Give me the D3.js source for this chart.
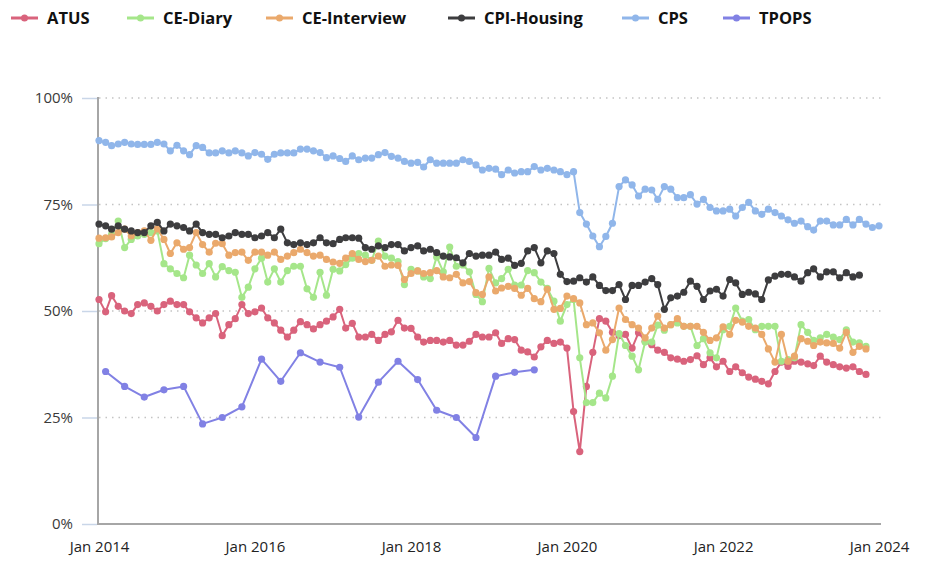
<!DOCTYPE html>
<html>
<head>
<meta charset="utf-8">
<script src="https://cdn.jsdelivr.net/npm/d3@7"></script>
<style>
  html, body { margin: 0; padding: 0; background: #fff; }
  svg { display: block; }
</style>
</head>
<body>
<svg id="chart" width="926" height="570"></svg>
<script>
// ---- Data (percent, monthly from Jan 2014) ----
const seriesNames = ["ATUS", "CE-Diary", "CE-Interview", "CPI-Housing", "CPS", "TPOPS"];
const seriesColors = ["#d9637c", "#a5e68a", "#eaa96c", "#3d3d3f", "#90b6ea", "#8181e4"];
const startMonth = "2014-01";
const xTickLabels = ["Jan 2014", "Jan 2016", "Jan 2018", "Jan 2020", "Jan 2022", "Jan 2024"];
const yTickValues = [0, 25, 50, 75, 100];

const atus = [52.7,49.8,53.6,51.1,50.0,49.4,51.5,51.9,51.1,50.0,51.5,52.3,51.5,51.5,49.8,48.4,47.2,48.4,49.4,44.2,
  46.8,48.2,51.5,49.4,49.8,50.7,48.4,47.2,45.5,43.9,45.5,47.5,46.8,45.8,46.8,47.6,48.6,50.4,46.0,47.1,
  43.9,43.9,44.5,43.1,44.5,45.1,47.8,46.0,45.9,43.9,42.7,43.1,43.1,42.7,43.1,42.0,42.0,42.9,44.5,43.9,
  43.9,44.9,42.4,43.5,43.3,40.8,40.4,39.2,41.6,43.1,42.4,42.7,41.3,26.4,17.0,32.3,40.3,48.2,47.6,45.0,
  44.2,44.5,41.3,44.9,42.9,42.1,40.8,40.3,39.0,38.7,38.2,38.6,39.5,37.4,39.0,36.9,38.2,35.8,36.9,35.5,
  34.5,34.0,33.5,32.9,35.8,38.0,37.0,38.2,38.0,37.6,37.2,39.4,38.0,37.4,36.9,36.6,36.9,35.8,35.1];

const ceDiary = [65.8,67.0,68.0,71.1,64.9,66.8,67.6,68.0,68.4,68.8,61.1,59.9,58.8,57.8,63.1,60.8,58.8,61.1,58.0,60.4,
  59.5,59.1,53.2,55.6,59.9,62.4,56.8,59.9,56.8,59.5,60.5,60.5,55.2,53.2,59.1,53.7,59.8,59.4,60.9,62.4,
  63.5,63.1,61.9,66.4,62.9,62.4,61.6,56.2,59.8,59.4,58.0,57.6,62.7,59.2,65.0,60.5,60.8,59.2,53.9,52.2,
  60.0,56.6,57.6,59.8,56.1,56.1,59.5,59.0,56.8,55.3,52.3,47.6,51.5,52.7,39.0,28.5,28.5,30.7,29.6,34.7,
  44.7,41.9,39.4,36.2,42.7,42.7,46.7,45.5,46.8,47.2,46.4,46.4,41.9,43.5,40.2,39.0,45.6,46.4,50.7,47.6,
  48.0,45.6,46.4,46.4,46.4,38.2,38.6,39.0,46.8,45.0,43.1,43.7,44.5,43.9,43.3,45.6,42.7,42.5,41.7];

const ceInterview = [67.1,67.2,67.4,68.4,69.2,67.6,68.4,68.8,66.6,69.3,66.8,63.5,66.0,64.5,64.9,68.4,65.6,63.8,65.9,65.8,
  63.1,63.7,63.8,61.9,63.8,63.8,63.1,63.8,62.1,62.9,63.7,64.5,63.7,62.9,63.1,62.1,61.5,61.2,62.4,63.5,
  62.1,61.6,61.9,62.9,60.5,60.8,60.7,57.4,58.8,59.4,58.8,59.0,59.5,58.0,57.8,58.6,56.6,56.9,54.3,53.9,
  58.0,54.7,55.4,55.8,55.3,53.7,55.3,52.9,52.2,55.1,50.4,50.6,53.5,52.9,51.9,46.8,47.2,44.9,40.8,43.3,
  50.7,48.0,46.8,46.0,43.7,46.0,48.8,46.0,46.8,48.2,46.4,46.4,46.4,45.0,43.1,43.7,46.3,44.5,47.8,47.4,
  46.4,46.0,44.5,41.1,38.0,44.5,38.2,39.4,43.5,42.9,41.9,42.7,42.5,42.4,41.3,45.0,40.3,41.7,41.1];

const cpiHousing = [70.4,70.0,69.2,70.0,69.2,68.8,68.4,68.4,70.0,70.8,68.8,70.4,70.0,69.6,68.8,70.4,68.4,68.0,68.0,67.2,
  67.6,68.4,68.0,68.0,67.2,67.6,68.4,67.2,69.2,66.0,65.6,66.0,65.6,66.0,67.2,66.0,65.8,66.8,67.2,67.2,
  67.1,64.9,64.5,65.3,64.9,65.6,65.6,64.1,64.9,65.3,64.1,64.5,63.7,62.9,62.7,62.5,61.3,63.5,62.9,63.1,
  63.1,63.8,62.1,62.4,60.7,61.2,64.1,64.9,61.3,64.1,63.5,58.6,56.9,57.0,57.8,56.8,58.0,56.0,54.8,54.8,
  56.2,52.7,56.0,56.0,56.8,57.6,56.2,50.4,53.1,53.5,54.4,57.0,55.8,52.7,54.7,55.1,53.5,57.4,56.6,53.9,
  54.4,54.0,52.7,57.3,58.2,58.6,58.6,58.0,57.0,59.0,59.9,58.0,59.2,59.2,57.8,59.0,58.0,58.4];

const cps = [90.0,89.6,88.8,89.2,89.6,89.2,89.1,89.1,89.1,89.6,89.2,87.6,88.9,87.6,86.7,88.8,88.4,87.1,87.1,87.6,
  87.1,87.6,87.1,86.4,87.2,86.8,85.6,86.8,87.1,87.1,87.1,88.0,88.0,87.6,87.2,86.0,86.4,85.8,85.1,86.4,
  85.5,85.9,85.9,86.7,87.2,86.3,85.9,85.1,84.7,84.9,83.8,85.5,84.7,84.7,84.7,84.7,85.5,85.1,84.3,83.1,
  83.5,83.3,82.0,83.1,82.4,82.7,82.7,83.9,83.1,83.5,83.1,82.7,82.0,82.7,73.1,70.4,67.6,65.1,67.5,70.6,
  79.2,80.8,79.6,77.0,78.6,78.4,76.2,79.2,78.6,76.6,76.6,77.3,75.1,76.2,74.3,73.5,73.5,73.9,72.3,74.3,
  75.5,73.5,72.7,73.9,73.1,72.3,71.4,70.6,71.1,69.8,69.0,71.1,71.1,70.2,70.2,71.5,70.2,71.5,70.4,69.6,70.0];

const tpopsMonths = ["2014-02","2014-05","2014-08","2014-11","2015-02","2015-05","2015-08","2015-11",
  "2016-02","2016-05","2016-08","2016-11","2017-02","2017-05","2017-08","2017-11",
  "2018-02","2018-05","2018-08","2018-11","2019-02","2019-05","2019-08"];
const tpops = [35.8,32.3,29.8,31.5,32.3,23.5,25.0,27.5,38.7,33.5,40.2,38.0,36.8,25.1,33.3,38.2,33.9,26.7,25.0,20.3,34.7,35.6,36.2];

// ---- Build ----
(function () {
const parseMonth = d3.timeParse("%Y-%m");
const start = parseMonth(startMonth);
const monthly = arr => arr.map((v, i) => ({ date: d3.timeMonth.offset(start, i), value: v / 100 }));
const seriesData = [
  monthly(atus),
  monthly(ceDiary),
  monthly(ceInterview),
  monthly(cpiHousing),
  monthly(cps),
  tpopsMonths.map((m, i) => ({ date: parseMonth(m), value: tpops[i] / 100 }))
];

const svg = d3.select("#chart");
const mLeft = 99, mRight = 879, mTop = 98, mBottom = 524;

const x = d3.scaleTime()
  .domain([parseMonth("2014-01"), parseMonth("2024-01")])
  .range([mLeft, mRight]);
const y = d3.scaleLinear().domain([0, 1]).range([mBottom, mTop]);

const fontFamily = "'Open Sans', 'Noto Sans', sans-serif";

// gridlines
svg.append("g").selectAll("line")
  .data(yTickValues.filter(v => v > 0))
  .join("line")
  .attr("x1", mLeft).attr("x2", mRight + 2)
  .attr("y1", d => y(d / 100)).attr("y2", d => y(d / 100))
  .attr("stroke", "#c4c4c4").attr("stroke-width", 1.5)
  .attr("stroke-dasharray", "1.5,5");

// y axis
const yAxis = d3.axisLeft(y)
  .tickValues(yTickValues.map(v => v / 100))
  .tickFormat(d3.format(".0%"))
  .tickSize(15).tickPadding(9);
const gy = svg.append("g").attr("transform", `translate(${mLeft - 2},0)`).call(yAxis);
gy.select(".domain").remove();
gy.selectAll(".tick line").attr("stroke", "#c9d6e8").attr("stroke-width", 1.5);
gy.selectAll(".tick text").attr("fill", "#3a3a3a").style("font-family", fontFamily).style("font-size", "15px");

// x axis
const xAxis = d3.axisBottom(x)
  .tickValues(xTickLabels.map(s => d3.timeParse("%b %Y")(s)))
  .tickFormat(d3.timeFormat("%b %Y"))
  .tickSize(0).tickPadding(17);
const gx = svg.append("g").attr("transform", `translate(0,${mBottom})`).call(xAxis);
gx.select(".domain").remove();
gx.selectAll(".tick text").attr("fill", "#222").style("font-family", fontFamily).style("font-size", "15px");

// axis lines
svg.append("line").attr("x1", mLeft - 1).attr("x2", mLeft - 1).attr("y1", mTop - 1).attr("y2", mBottom + 1)
  .attr("stroke", "#a6a6a6").attr("stroke-width", 2);
svg.append("line").attr("x1", mLeft - 2).attr("x2", mRight + 2).attr("y1", mBottom).attr("y2", mBottom)
  .attr("stroke", "#a6a6a6").attr("stroke-width", 2);

// series
const line = d3.line().x(d => x(d.date)).y(d => y(d.value));
seriesData.forEach((data, i) => {
  const g = svg.append("g");
  g.append("path").datum(data)
    .attr("d", line).attr("fill", "none")
    .attr("stroke", seriesColors[i]).attr("stroke-width", 2)
    .attr("stroke-linejoin", "round");
  g.selectAll("circle").data(data).join("circle")
    .attr("cx", d => x(d.date)).attr("cy", d => y(d.value))
    .attr("r", 3.6).attr("fill", seriesColors[i]);
});

// legend
const legendX = [11, 127, 266, 448, 622, 723];
const lg = svg.append("g").attr("transform", "translate(0,18)");
seriesNames.forEach((name, i) => {
  const g = lg.append("g").attr("transform", `translate(${legendX[i]},0)`);
  g.append("line").attr("x1", 0).attr("x2", 27).attr("y1", 0).attr("y2", 0)
    .attr("stroke", seriesColors[i]).attr("stroke-width", 3);
  g.append("circle").attr("cx", 13.5).attr("cy", 0).attr("r", 3.5).attr("fill", seriesColors[i]);
  g.append("text").attr("x", 36).attr("y", 0).attr("dy", "0.36em")
    .attr("fill", "#111").style("font-family", fontFamily).style("font-size", "16.5px").style("font-weight", 700)
    .text(name);
});
})();
</script>
</body>
</html>
